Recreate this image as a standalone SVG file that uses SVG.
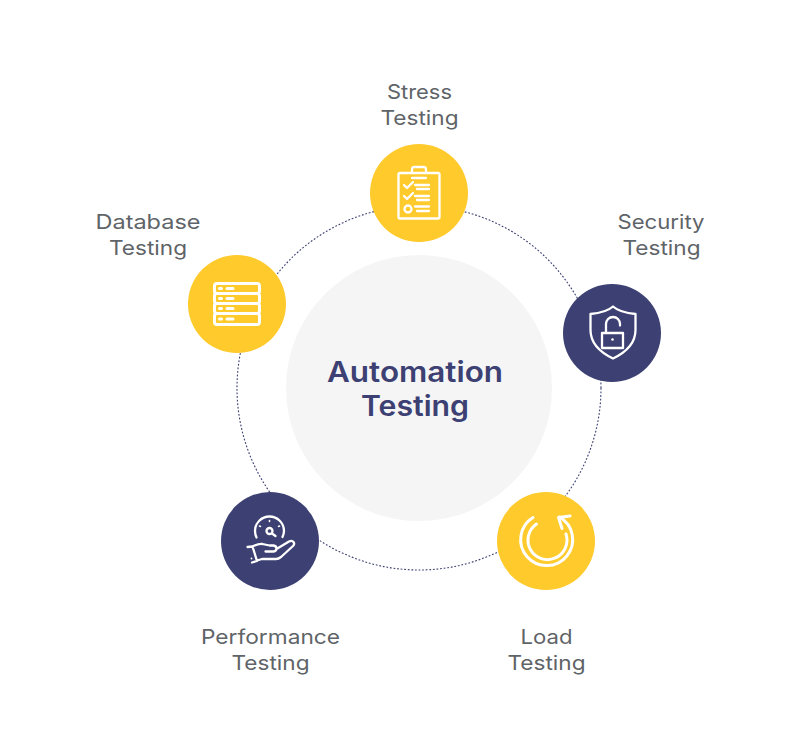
<svg xmlns="http://www.w3.org/2000/svg" width="800" height="756" viewBox="0 0 800 756">
<style>
.lbl{font-family:"Inter","Liberation Sans",sans-serif;font-size:20px;fill:#5f6468;text-anchor:middle}
.ttl{font-family:"Inter","Liberation Sans",sans-serif;font-size:28px;font-weight:600;fill:#3c4072;text-anchor:middle}
.y{fill:#ffca2c}.b{fill:#3c4072}
.i{fill:none;stroke:#fff;stroke-width:2.3;stroke-linecap:round;stroke-linejoin:round}
.t{stroke-width:3}
</style>
<rect width="800" height="756" fill="#fff"/>
<g id="connectors"><circle cx="419" cy="388" r="182" fill="none" stroke="#3c4072" stroke-width="1.100" stroke-dasharray="1.800 1.800"/></g>
<g id="center"><circle cx="419" cy="388" r="133" fill="#f5f5f5"/>
<text class="ttl" x="415" y="381.500" textLength="176" lengthAdjust="spacingAndGlyphs">Automation</text>
<text class="ttl" x="415" y="415.500" textLength="108" lengthAdjust="spacingAndGlyphs">Testing</text></g>
<g id="stress"><circle class="y" cx="419" cy="193" r="49"/>
<g class="i"><rect x="398.500" y="173" width="41" height="45.500" rx="1.500"/><path d="M412 173v-3.500q0-2.500 2.500-2.500h9q2.500 0 2.500 2.500v3.500M412 178h14M404 185l3 3 6-6M415 185h14M417 189h12M404 196l3 3 6-6M415 196h14M417 200h12M415 206.500h14M417 211h12"/><circle cx="408" cy="209" r="3.500"/></g>
<text class="lbl" x="419.500" y="98.500" textLength="65" lengthAdjust="spacingAndGlyphs">Stress</text><text class="lbl" x="419.500" y="124.500" textLength="78" lengthAdjust="spacingAndGlyphs">Testing</text></g>
<g id="database"><circle class="y" cx="237" cy="304" r="49"/>
<g class="i t"><rect x="214.500" y="283.500" width="45" height="10" rx="2.500"/><rect x="214.500" y="293.500" width="45" height="10" rx="2.500"/><rect x="214.500" y="303.500" width="45" height="10" rx="2.500"/><rect x="214.500" y="313.500" width="45" height="11" rx="2.500"/>
<path d="M219.500 288.500h2M227 288.500h6M219.500 298.500h2M227 298.500h6M219.500 308.500h2M227 308.500h6M219.500 319h2M227 319h6"/></g>
<text class="lbl" x="148" y="228.500" textLength="105" lengthAdjust="spacingAndGlyphs">Database</text><text class="lbl" x="148" y="254.500" textLength="78" lengthAdjust="spacingAndGlyphs">Testing</text></g>
<g id="security"><circle class="b" cx="612" cy="333" r="49"/>
<g class="i"><path d="M613 306.500c5 4.500 11 6.500 22.500 7.500v16c0 13-9 22-22.500 28.500c-13.500-6.500-22.500-15.500-22.500-28.500v-16c11.500-1 17.500-3 22.500-7.500z"/><rect x="602" y="333" width="21" height="15"/><path d="M606 333v-9a7 7 0 0 1 14 0v1.500"/></g><circle cx="612.500" cy="339.500" r="1.300" fill="#fff"/>
<text class="lbl" x="661" y="228.500" textLength="87" lengthAdjust="spacingAndGlyphs">Security</text><text class="lbl" x="661.500" y="254.500" textLength="78" lengthAdjust="spacingAndGlyphs">Testing</text></g>
<g id="load"><circle class="y" cx="546" cy="541" r="49"/>
<g class="i t"><path d="M533 517.500a26 26 0 1 0 26.500-.5"/><path d="M536.500 524a19.500 19.500 0 1 0 29.500 10"/><path d="M570 516l-11.500 1.500 3.500 11"/></g>
<text class="lbl" x="546.500" y="643.500" textLength="52" lengthAdjust="spacingAndGlyphs">Load</text><text class="lbl" x="546.500" y="669.500" textLength="78" lengthAdjust="spacingAndGlyphs">Testing</text></g>
<g id="performance"><circle class="b" cx="270" cy="541" r="49"/>
<g class="i"><path d="M256.500 537.500a15.500 15.500 0 0 1-1.500-6.500a14.500 14.500 0 0 1 29 0a15 15 0 0 1-1.500 6"/><path stroke-width="1.600" d="M269.500 520.500v1M259.500 526l1 .5M279.500 526l-1 .5"/><path d="M272 533.500l3.500 2.500"/><circle cx="269.500" cy="531" r="3"/><path d="M247.500 547l5-.5c3-1.500 6-3 10-2.500l7 1.500h4q3 .5 3 3t-3 3h-8M276.500 549l12.500-7.500q3-1.500 4.500.5t-.5 4l-12 11q-2.500 2-5 2h-14l-5 1.500M252.500 546.500l4.500 14.500-5 1.500"/></g><circle cx="251.500" cy="558.500" r=".9" fill="#fff"/>
<text class="lbl" x="270.500" y="643.500" textLength="139" lengthAdjust="spacingAndGlyphs">Performance</text><text class="lbl" x="270.500" y="669.500" textLength="78" lengthAdjust="spacingAndGlyphs">Testing</text></g>
</svg>
